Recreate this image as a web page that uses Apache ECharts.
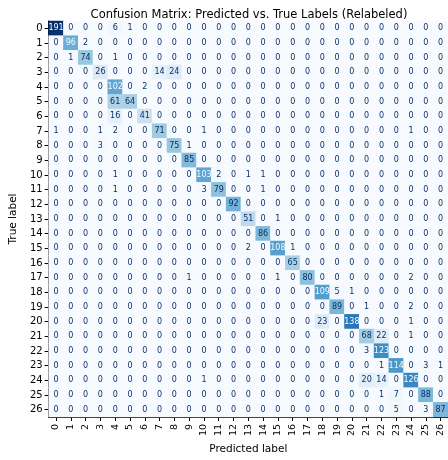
<!DOCTYPE html>
<html>
<head>
<meta charset="utf-8">
<script src="https://cdn.jsdelivr.net/npm/echarts@6/dist/echarts.min.js"></script>
<style>html,body{margin:0;padding:0;background:#fff}#c{width:448px;height:460px}</style>
</head>
<body>
<div id="c"></div>
<script>
const labels = Array.from({length: 27}, (_, i) => String(i));
// rows = true label, columns = predicted label
const row0  = [191,0,0,0,6,1,0,0,0,0,0,0,0,0,0,0,0,0,0,0,0,0,0,0,0,0,0];
const row1  = [0,96,2,0,0,0,0,0,0,0,0,0,0,0,0,0,0,0,0,0,0,0,0,0,0,0,0];
const row2  = [0,1,74,0,1,0,0,0,0,0,0,0,0,0,0,0,0,0,0,0,0,0,0,0,0,0,0];
const row3  = [0,0,0,26,0,0,0,14,24,0,0,0,0,0,0,0,0,0,0,0,0,0,0,0,0,0,0];
const row4  = [0,0,0,0,102,0,2,0,0,0,0,0,0,0,0,0,0,0,0,0,0,0,0,0,0,0,0];
const row5  = [0,0,0,0,61,64,0,0,0,0,0,0,0,0,0,0,0,0,0,0,0,0,0,0,0,0,0];
const row6  = [0,0,0,0,16,0,41,0,0,0,0,0,0,0,0,0,0,0,0,0,0,0,0,0,0,0,0];
const row7  = [1,0,0,1,2,0,0,71,0,0,1,0,0,0,0,0,0,0,0,0,0,0,0,0,1,0,0];
const row8  = [0,0,0,3,0,0,0,0,75,1,0,0,0,0,0,0,0,0,0,0,0,0,0,0,0,0,0];
const row9  = [0,0,0,0,0,0,0,0,0,85,0,0,0,0,0,0,0,0,0,0,0,0,0,0,0,0,0];
const row10 = [0,0,0,0,1,0,0,0,0,0,103,2,0,1,1,0,0,0,0,0,0,0,0,0,0,0,0];
const row11 = [0,0,0,0,1,0,0,0,0,0,3,79,0,0,1,0,0,0,0,0,0,0,0,0,0,0,0];
const row12 = [0,0,0,0,0,0,0,0,0,0,0,0,92,0,0,0,0,0,0,0,0,0,0,0,0,0,0];
const row13 = [0,0,0,0,0,0,0,0,0,0,0,0,0,51,0,1,0,0,0,0,0,0,0,0,0,0,0];
const row14 = [0,0,0,0,0,0,0,0,0,0,0,0,0,0,86,0,0,0,0,0,0,0,0,0,0,0,0];
const row15 = [0,0,0,0,0,0,0,0,0,0,0,0,0,2,0,108,1,0,0,0,0,0,0,0,0,0,0];
const row16 = [0,0,0,0,0,0,0,0,0,0,0,0,0,0,0,0,65,0,0,0,0,0,0,0,0,0,0];
const row17 = [0,0,0,0,0,0,0,0,0,1,0,0,0,0,0,1,0,80,0,0,0,0,0,0,2,0,0];
const row18 = [0,0,0,0,0,0,0,0,0,0,0,0,0,0,0,0,0,0,109,5,1,0,0,0,0,0,0];
const row19 = [0,0,0,0,0,0,0,0,0,0,0,0,0,0,0,0,0,0,0,89,0,1,0,0,2,0,0];
const row20 = [0,0,0,0,0,0,0,0,0,0,0,0,0,0,0,0,0,0,23,0,138,0,0,0,1,0,0];
const row21 = [0,0,0,0,0,0,0,0,0,0,0,0,0,0,0,0,0,0,0,0,0,68,22,0,1,0,0];
const row22 = [0,0,0,0,0,0,0,0,0,0,0,0,0,0,0,0,0,0,0,0,0,3,123,0,0,0,0];
const row23 = [0,0,0,0,0,0,0,0,0,0,0,0,0,0,0,0,0,0,0,0,0,0,1,114,0,3,1];
const row24 = [0,0,0,0,0,0,0,0,0,0,1,0,0,0,0,0,0,0,0,0,0,20,14,0,126,0,0];
const row25 = [0,0,0,0,0,0,0,0,0,0,0,0,0,0,0,0,0,0,0,0,0,0,1,7,0,88,0];
const row26 = [0,0,0,0,0,0,0,0,0,0,0,0,0,0,0,0,0,0,0,0,0,0,0,5,0,3,87];
const matrix = [row0,row1,row2,row3,row4,row5,row6,row7,row8,row9,row10,row11,row12,row13,
  row14,row15,row16,row17,row18,row19,row20,row21,row22,row23,row24,row25,row26];

const blues = ['#f7fbff','#deebf7','#c6dbef','#9ecae1','#6baed6','#4292c6','#2171b5','#08519c','#08306b'];
let vmax = 0, vmin = Infinity;
matrix.forEach(r => r.forEach(v => { vmax = Math.max(vmax, v); vmin = Math.min(vmin, v); }));
const thresh = (vmax + vmin) / 2;

const data = [];
matrix.forEach((r, i) => r.forEach((v, j) => {
  data.push({ value: [j, i, v], label: { color: v > thresh ? '#f7fbff' : '#08306b' } });
}));

const FONT = 'DejaVu Sans';
const chart = echarts.init(document.getElementById('c'), null, { renderer: 'canvas' });
chart.setOption({
  animation: false,
  backgroundColor: '#fff',
  title: {
    text: 'Confusion Matrix: Predicted vs. True Labels (Relabeled)',
    left: 244, top: 4, textAlign: 'center',
    textStyle: { fontFamily: FONT, fontSize: 11.5, fontWeight: 'normal', color: '#000' }
  },
  grid: { left: 40, top: 21, width: 408, height: 408, show: false },
  xAxis: [{
    type: 'category', data: labels, position: 'bottom',
    name: 'Predicted label', nameLocation: 'middle', nameGap: 21,
    nameTextStyle: { fontFamily: FONT, fontSize: 10.5, color: '#000' },
    axisLine: { show: true, lineStyle: { color: '#000', width: 1 } },
    axisTick: { show: true, alignWithLabel: true, length: 4, lineStyle: { color: '#000' } },
    axisLabel: { rotate: 90, fontFamily: FONT, fontSize: 9.5, color: '#000', margin: 7, interval: 0 },
    splitLine: { show: false }, splitArea: { show: false }
  }, {
    type: 'category', data: labels, position: 'top',
    axisLine: { show: true, lineStyle: { color: '#000', width: 1 } },
    axisTick: { show: false }, axisLabel: { show: false },
    splitLine: { show: false }, splitArea: { show: false }
  }],
  yAxis: {
    type: 'category', data: labels, inverse: true,
    name: 'True label', nameLocation: 'middle', nameGap: 24, nameRotate: 90,
    nameTextStyle: { fontFamily: FONT, fontSize: 10.5, color: '#000' },
    axisLine: { show: true, lineStyle: { color: '#000', width: 1 } },
    axisTick: { show: true, alignWithLabel: true, length: 4, lineStyle: { color: '#000' } },
    axisLabel: { fontFamily: FONT, fontSize: 10, color: '#000', margin: 6, interval: 0 },
    splitLine: { show: false }, splitArea: { show: false }
  },
  visualMap: { show: false, min: 0, max: vmax, dimension: 2, inRange: { color: blues } },
  series: [{
    type: 'heatmap', data: data, xAxisIndex: 0,
    label: { show: true, fontFamily: FONT, fontSize: 8, formatter: p => String(p.value[2]) },
    itemStyle: { borderWidth: 0 },
    emphasis: { disabled: true }
  }]
});
</script>
</body>
</html>
